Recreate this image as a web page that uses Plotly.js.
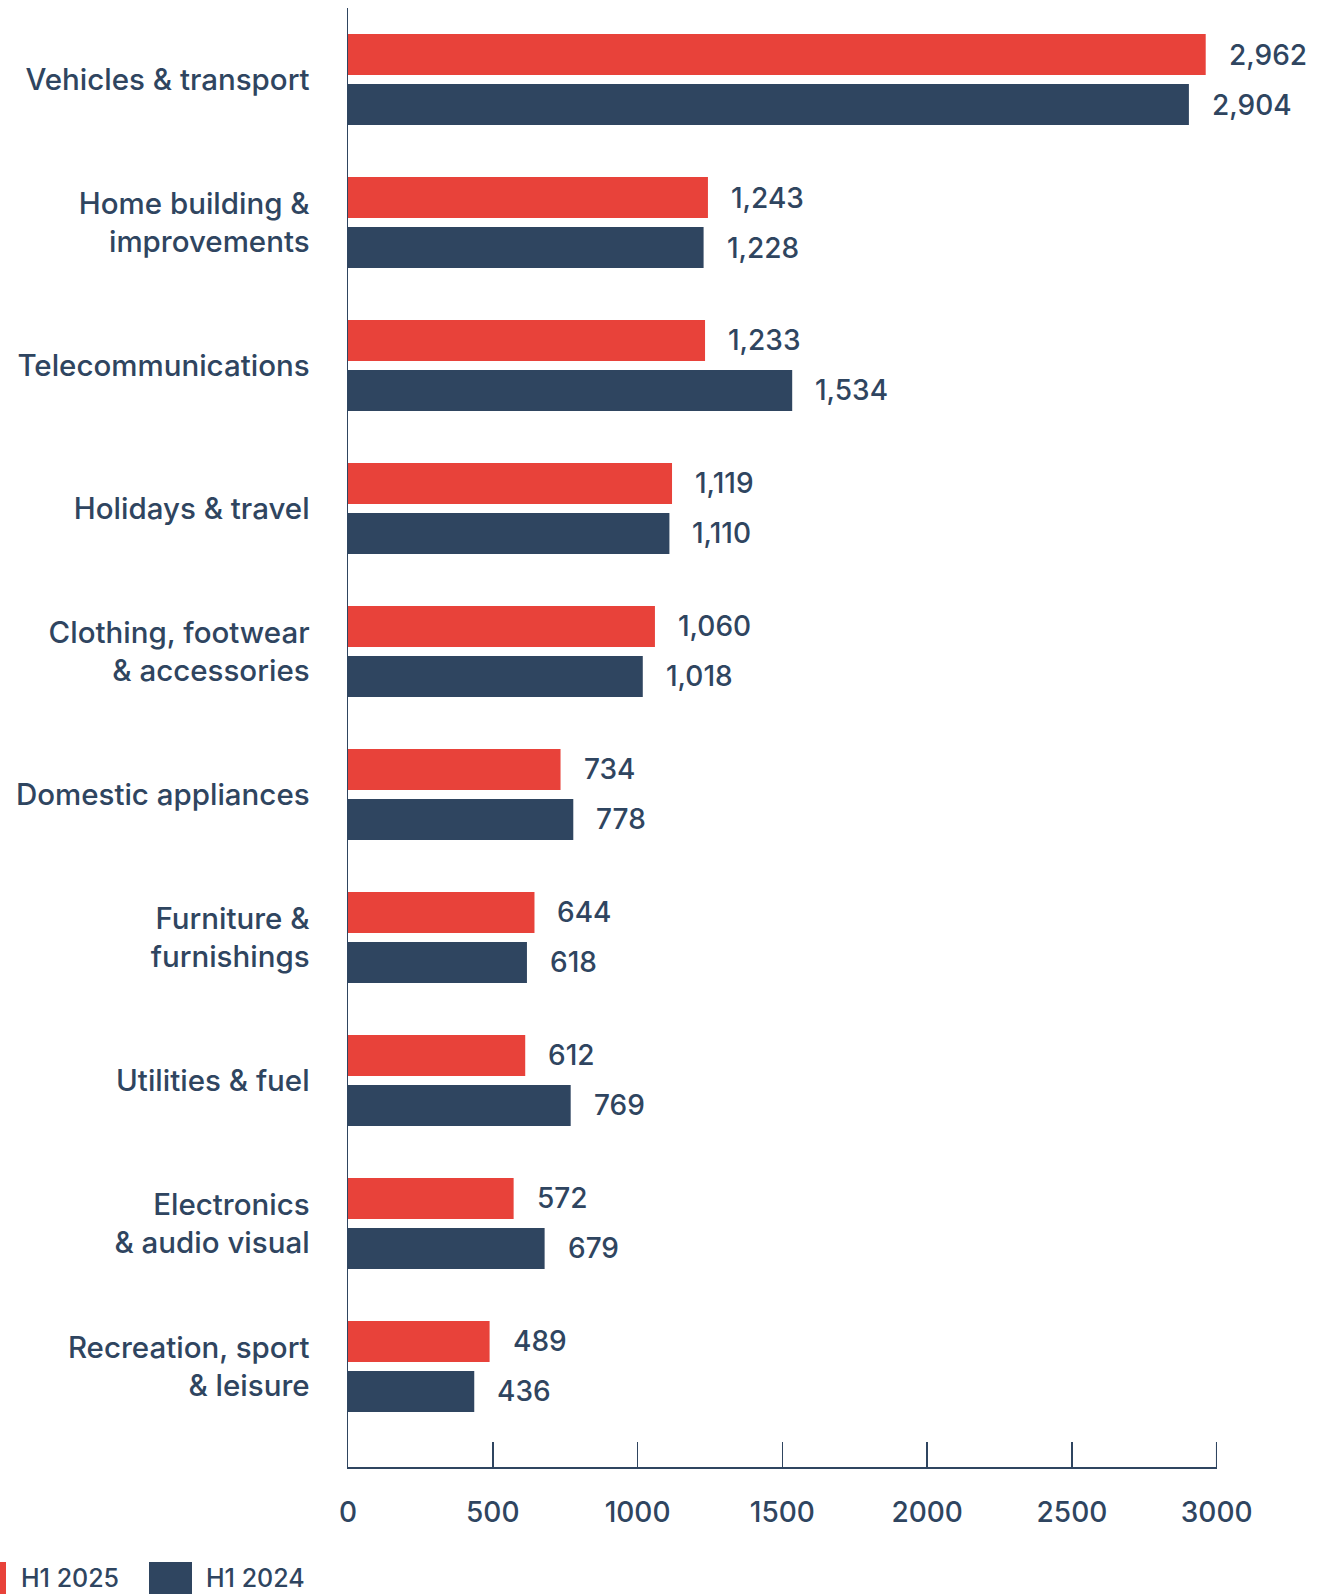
<!DOCTYPE html>
<html>
<head>
<meta charset="utf-8">
<script src="https://cdn.plot.ly/plotly-3.0.1.min.js"></script>
<style>html,body{margin:0;padding:0;background:#fff;}#chart{width:1325px;height:1594px;}</style>
</head>
<body>
<div id="chart"></div>
<script>
var categories = [
  "Vehicles & transport",
  "Home building &<br>improvements",
  "Telecommunications",
  "Holidays & travel",
  "Clothing, footwear<br>& accessories",
  "Domestic appliances",
  "Furniture &<br>furnishings",
  "Utilities & fuel",
  "Electronics<br>& audio visual",
  "Recreation, sport<br>& leisure"
];
var h1_2025 = [2962, 1243, 1233, 1119, 1060, 734, 644, 612, 572, 489];
var h1_2024 = [2904, 1228, 1534, 1110, 1018, 778, 618, 769, 679, 436];
var xTicks = [0, 500, 1000, 1500, 2000, 2500, 3000];
var seriesNames = ["H1 2025", "H1 2024"];

var RED = "#E8423A", NAVY = "#2F4560", TXT = "#2F4560";
var FONT = "Inter, 'Open Sans', sans-serif";
var W = 1325, H = 1594, L = 348, R = 108, T = 8, B = 127;
var pw = W - L - R, ph = H - T - B;
function px2x(p){ return (p - L) / pw; }
function py2y(p){ return (H - B - p) / ph; }

var traces = [
  {type:"bar", orientation:"h", name:seriesNames[0], y:categories, x:h1_2025,
   marker:{color:RED}, hoverinfo:"x+y", showlegend:false},
  {type:"bar", orientation:"h", name:seriesNames[1], y:categories, x:h1_2024,
   marker:{color:NAVY}, hoverinfo:"x+y", showlegend:false}
];

var annotations = [];
function fmt(v){ return v.toLocaleString("en-US"); }
categories.forEach(function(c, i){
  annotations.push({x:h1_2025[i], y:c, xref:"x", yref:"y", text:fmt(h1_2025[i]),
    showarrow:false, xanchor:"left", yanchor:"middle", xshift:21, yshift:25,
    font:{family:FONT, size:28, color:TXT, weight:500}});
  annotations.push({x:h1_2024[i], y:c, xref:"x", yref:"y", text:fmt(h1_2024[i]),
    showarrow:false, xanchor:"left", yanchor:"middle", xshift:21, yshift:-25,
    font:{family:FONT, size:28, color:TXT, weight:500}});
});
// legend
annotations.push({x:px2x(20), y:py2y(1594), xref:"paper", yref:"paper", text:seriesNames[0],
  showarrow:false, xanchor:"left", yanchor:"bottom", borderpad:0, font:{family:FONT, size:25, color:TXT, weight:500}});
annotations.push({x:px2x(205), y:py2y(1594), xref:"paper", yref:"paper", text:seriesNames[1],
  showarrow:false, xanchor:"left", yanchor:"bottom", borderpad:0, font:{family:FONT, size:25, color:TXT, weight:500}});

var shapes = [
  {type:"rect", xref:"paper", yref:"paper", x0:px2x(-37), x1:px2x(6), y0:py2y(1605), y1:py2y(1562),
   fillcolor:RED, line:{width:0}},
  {type:"rect", xref:"paper", yref:"paper", x0:px2x(149), x1:px2x(192), y0:py2y(1605), y1:py2y(1562),
   fillcolor:NAVY, line:{width:0}},
  // end tick at the last x tick value (drawn explicitly since plotly hides inside ticks at range ends)
  {type:"line", xref:"x", yref:"paper", ysizemode:"pixel", yanchor:0,
   x0:xTicks[xTicks.length-1], x1:xTicks[xTicks.length-1], y0:0, y1:25,
   line:{color:NAVY, width:1.5}}
];

var layout = {
  width:W, height:H,
  margin:{l:L, r:R, t:T, b:B, pad:0},
  paper_bgcolor:"#fff", plot_bgcolor:"#fff",
  barmode:"group", bargap:0.30, bargroupgap:0.18,
  font:{family:FONT, color:TXT},
  showlegend:false,
  xaxis:{range:[0,3001], tickvals:xTicks, ticktext:xTicks.map(String),
    showgrid:false, zeroline:false, showline:true, linecolor:NAVY, linewidth:1.5,
    ticks:"inside", ticklen:25, tickwidth:1.5, tickcolor:NAVY,
    ticklabelstandoff:20,
    tickfont:{family:FONT, size:28, color:TXT, weight:500}, fixedrange:true},
  yaxis:{type:"category", range:[9.703, -0.5], showgrid:false, zeroline:false,
    showline:true, linecolor:NAVY, linewidth:1.5, ticks:"",
    ticklabelstandoff:31,
    tickfont:{family:FONT, size:29.5, color:TXT, weight:500}, fixedrange:true},
  annotations:annotations,
  shapes:shapes
};

Plotly.newPlot("chart", traces, layout, {displayModeBar:false, staticPlot:true});
</script>
</body>
</html>
